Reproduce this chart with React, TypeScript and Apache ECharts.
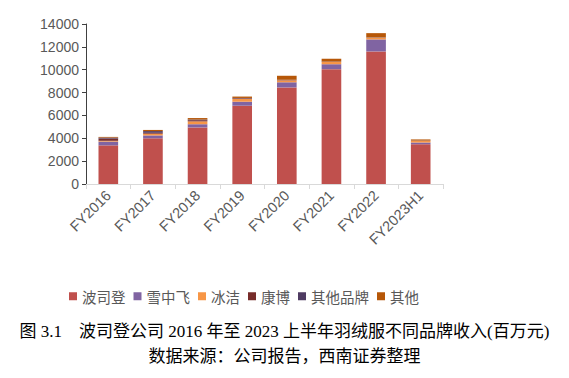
import React, { useEffect, useRef } from "react";
import * as echarts from "echarts";

const categories = ["FY2016", "FY2017", "FY2018", "FY2019", "FY2020", "FY2021", "FY2022", "FY2023H1"];
const seriesNames = ["波司登", "雪中飞", "冰洁", "康博", "其他品牌", "其他"];
const bosideng = [3380, 4000, 4950, 6850, 8450, 10050, 11600, 3480];
const xuezhongfei = [330, 250, 280, 350, 450, 430, 1050, 150];
const bingjie = [70, 150, 250, 250, 170, 200, 150, 150];
const kangbo = [200, 80, 100, 50, 20, 10, 10, 10];
const otherBrands = [80, 150, 60, 30, 30, 20, 20, 10];
const others = [60, 100, 130, 120, 350, 250, 370, 100];
const yTicks = [0, 2000, 4000, 6000, 8000, 10000, 12000, 14000];
const colors = ["#C0504D", "#8064A2", "#F79646", "#772C2A", "#4F3B62", "#B65708"];
const caption1 = "图 3.1    波司登公司 2016 年至 2023 上半年羽绒服不同品牌收入(百万元)";
const caption2 = "数据来源：公司报告，西南证券整理";

export default function App() {
  const ref = useRef<HTMLDivElement>(null);
  useEffect(() => {
    if (!ref.current) return;
    const chart = echarts.init(ref.current, null, { renderer: "svg" });
    const data = [bosideng, xuezhongfei, bingjie, kangbo, otherBrands, others];
    chart.setOption({
      animation: false,
      color: colors,
      grid: { left: 86, right: 126, top: 24, bottom: 194, containLabel: false },
      legend: {
        data: seriesNames,
        left: 64,
        top: 284,
        itemWidth: 8,
        itemHeight: 8,
        itemGap: 8,
        icon: "rect",
        textStyle: { color: "#595959", fontSize: 14.5, fontFamily: "Noto Sans CJK SC" },
      },
      xAxis: {
        type: "category",
        data: categories,
        axisLine: { lineStyle: { color: "#D9D9D9", width: 1 } },
        axisTick: { show: true, length: 5, lineStyle: { color: "#D9D9D9" } },
        axisLabel: {
          rotate: 45,
          color: "#595959",
          fontSize: 14.5,
          fontFamily: "Liberation Sans",
          margin: 9,
        },
      },
      yAxis: {
        type: "value",
        min: yTicks[0],
        max: yTicks[yTicks.length - 1],
        interval: 2000,
        axisLine: { show: true, lineStyle: { color: "#404040", width: 1 } },
        axisTick: { show: true, length: 4, lineStyle: { color: "#404040" } },
        splitLine: { show: false },
        axisLabel: {
          color: "#595959",
          fontSize: 14,
          fontFamily: "Liberation Sans",
          margin: 7,
          formatter: (v: number) => String(v),
        },
      },
      series: seriesNames.map((name, i) => ({
        name,
        type: "bar",
        stack: "total",
        barWidth: "44%",
        data: data[i],
        itemStyle: { color: colors[i] },
      })),
      graphic: [
        {
          type: "text",
          left: "center",
          top: 323,
          style: {
            text: caption1,
            fill: "#000",
            fontSize: 17,
            fontFamily: "Liberation Serif, Noto Sans CJK SC",
          },
        },
        {
          type: "text",
          left: "center",
          top: 348,
          style: {
            text: caption2,
            fill: "#000",
            fontSize: 17,
            fontFamily: "Liberation Serif, Noto Sans CJK SC",
          },
        },
      ],
    });
    return () => chart.dispose();
  }, []);
  return (
    <div
      ref={ref}
      style={{ position: "fixed", left: 0, top: 0, width: 569, height: 378, background: "#fff" }}
    />
  );
}
